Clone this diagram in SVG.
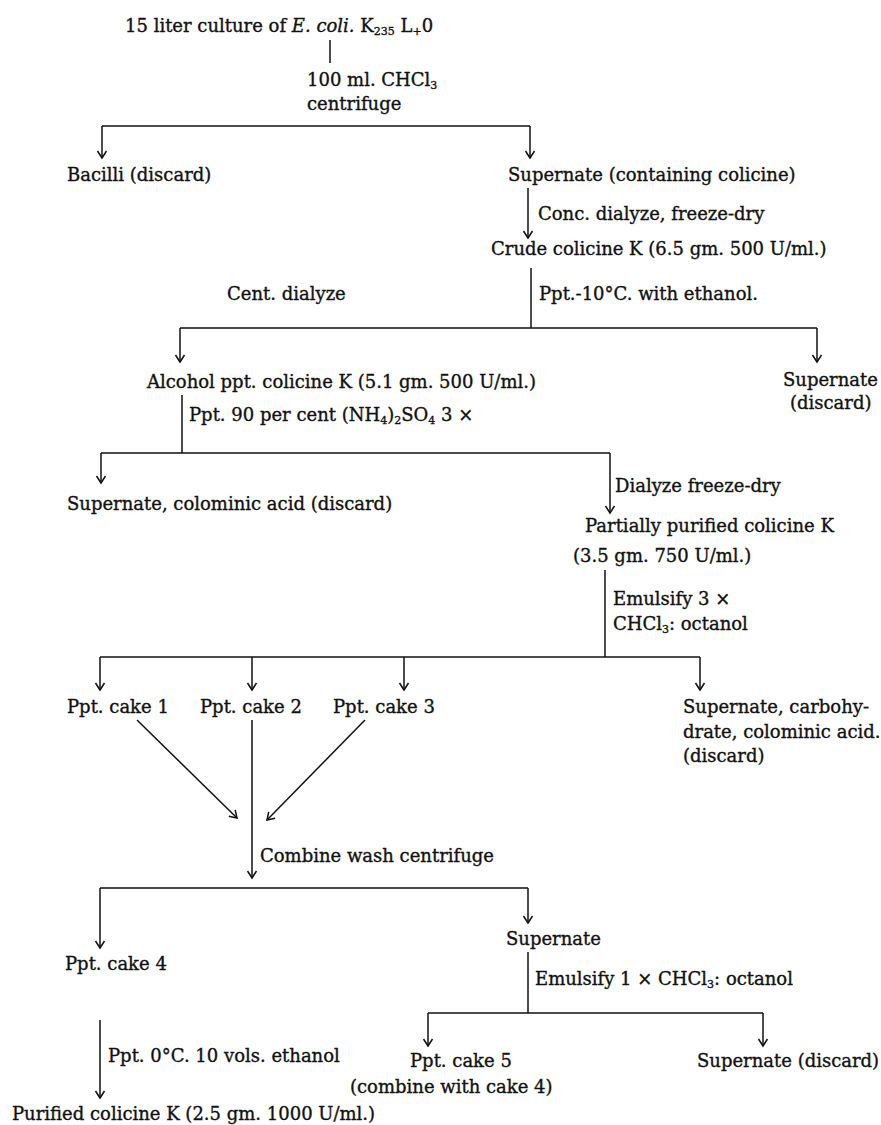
<svg xmlns="http://www.w3.org/2000/svg" width="881" height="1125" viewBox="0 0 881 1125">
<style>
text{font-family:"DejaVu Serif","Liberation Serif",serif;font-size:18px;fill:#111;stroke:#111;stroke-width:0.35}
.sub{font-size:11px}
.it{font-style:italic}
.c path{fill:none;stroke:#111;stroke-width:1.5}
</style>
<defs>
<marker id="ah" viewBox="-9 -6 11 12" refX="0" refY="0" markerWidth="11" markerHeight="12" markerUnits="userSpaceOnUse" orient="auto">
<path d="M-7,-4.5 L0,0 L-7,4.5" fill="none" stroke="#111" stroke-width="1.5"/>
</marker>
</defs>
<rect width="881" height="1125" fill="#fff"/>
<g class="c" id="connectors">
<path d="M330,40 V63"/>
<path d="M102,126 H530"/>
<path d="M102,126 V158" marker-end="url(#ah)"/>
<path d="M530,126 V158" marker-end="url(#ah)"/>
<path d="M528,188 V238" marker-end="url(#ah)"/>
<path d="M531,268 V328"/>
<path d="M180,328 H817"/>
<path d="M180,328 V362" marker-end="url(#ah)"/>
<path d="M817,328 V362" marker-end="url(#ah)"/>
<path d="M182,395 V453"/>
<path d="M101,453 H610"/>
<path d="M101,453 V483" marker-end="url(#ah)"/>
<path d="M610,453 V513" marker-end="url(#ah)"/>
<path d="M605,570 V657"/>
<path d="M100,657 H700"/>
<path d="M100,657 V690" marker-end="url(#ah)"/>
<path d="M252,657 V690" marker-end="url(#ah)"/>
<path d="M404,657 V690" marker-end="url(#ah)"/>
<path d="M700,657 V690" marker-end="url(#ah)"/>
<path d="M137,720 L237,818" marker-end="url(#ah)"/>
<path d="M365,720 L267,820" marker-end="url(#ah)"/>
<path d="M252,720 V878" marker-end="url(#ah)"/>
<path d="M100,888 H528"/>
<path d="M100,888 V948" marker-end="url(#ah)"/>
<path d="M528,888 V923" marker-end="url(#ah)"/>
<path d="M528,952 V1013"/>
<path d="M428,1013 H763"/>
<path d="M428,1013 V1046" marker-end="url(#ah)"/>
<path d="M763,1013 V1046" marker-end="url(#ah)"/>
<path d="M100,1020 V1098" marker-end="url(#ah)"/>
</g>
<g id="culture"><text x="125" y="32" font-size="18.6">15 liter culture of <tspan class="it">E. coli.</tspan> K<tspan class="sub" dy="3">235</tspan><tspan dy="-3"> L</tspan><tspan class="sub" dy="3">+</tspan><tspan dy="-3">0</tspan></text></g>
<g id="step1"><text x="307" y="86">100 ml. CHCl<tspan class="sub" dy="3">3</tspan></text><text x="307" y="110">centrifuge</text></g>
<g id="bacilli"><text x="67" y="181">Bacilli (discard)</text></g>
<g id="supernate1"><text x="508" y="181">Supernate (containing colicine)</text></g>
<g id="step2"><text x="538" y="220">Conc. dialyze, freeze-dry</text></g>
<g id="crude"><text x="491" y="255">Crude colicine K (6.5 gm. 500 U/ml.)</text></g>
<g id="step3"><text x="227" y="300">Cent. dialyze</text><text x="539" y="300">Ppt.-10°C. with ethanol.</text></g>
<g id="alcohol"><text x="147" y="388">Alcohol ppt. colicine K (5.1 gm. 500 U/ml.)</text></g>
<g id="supernate2"><text x="783" y="386">Supernate</text><text x="790" y="409">(discard)</text></g>
<g id="step4"><text x="189" y="421">Ppt. 90 per cent (NH<tspan class="sub" dy="3">4</tspan><tspan dy="-3">)</tspan><tspan class="sub" dy="3">2</tspan><tspan dy="-3">SO</tspan><tspan class="sub" dy="3">4</tspan><tspan dy="-3"> 3 ×</tspan></text></g>
<g id="supernate3"><text x="67" y="510">Supernate, colominic acid (discard)</text></g>
<g id="step5"><text x="615" y="492">Dialyze freeze-dry</text></g>
<g id="partial"><text x="585" y="532">Partially purified colicine K</text><text x="573" y="562">(3.5 gm. 750 U/ml.)</text></g>
<g id="step6"><text x="613" y="605">Emulsify 3 ×</text><text x="613" y="630">CHCl<tspan class="sub" dy="3">3</tspan><tspan dy="-3">: octanol</tspan></text></g>
<g id="cake1"><text x="67" y="713">Ppt. cake 1</text></g>
<g id="cake2"><text x="200" y="713">Ppt. cake 2</text></g>
<g id="cake3"><text x="333" y="713">Ppt. cake 3</text></g>
<g id="supernate4"><text x="683" y="713">Supernate, carbohy-</text><text x="683" y="738">drate, colominic acid.</text><text x="683" y="762">(discard)</text></g>
<g id="step7"><text x="260" y="862">Combine wash centrifuge</text></g>
<g id="cake4"><text x="65" y="970">Ppt. cake 4</text></g>
<g id="supernate5"><text x="506" y="945">Supernate</text></g>
<g id="step8"><text x="535" y="985">Emulsify 1 × CHCl<tspan class="sub" dy="3">3</tspan><tspan dy="-3">: octanol</tspan></text></g>
<g id="cake5"><text x="410" y="1067">Ppt. cake 5</text><text x="350" y="1093">(combine with cake 4)</text></g>
<g id="supernate6"><text x="697" y="1067">Supernate (discard)</text></g>
<g id="step9"><text x="108" y="1062">Ppt. 0°C. 10 vols. ethanol</text></g>
<g id="purified"><text x="12" y="1120">Purified colicine K (2.5 gm. 1000 U/ml.)</text></g>
</svg>
